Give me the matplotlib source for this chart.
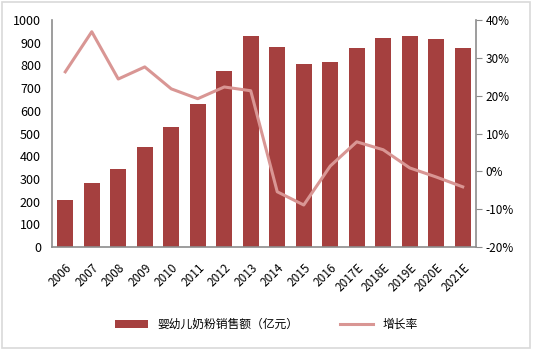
import matplotlib
matplotlib.use("Agg")
from matplotlib import pyplot as plt
from matplotlib.patches import Rectangle
import numpy as np

plt.rcParams['font.family'] = ['Noto Sans CJK SC', 'DejaVu Sans']

years = ["2006", "2007", "2008", "2009", "2010", "2011", "2012", "2013",
         "2014", "2015", "2016", "2017E", "2018E", "2019E", "2020E", "2021E"]
sales = [205, 280, 343, 440, 528, 628, 775, 930,
         880, 805, 815, 878, 922, 928, 915, 878]
growth = [26.3, 36.9, 24.4, 27.6, 21.8, 19.2, 22.3, 21.3,
          -5.4, -8.9, 1.4, 7.8, 5.7, 0.9, -1.5, -4.1]

bar_color = "#A5403F"
line_color = "#D99694"
axis_color = "#8C8C8C"

fig = plt.figure(figsize=(5.33, 3.51), dpi=100)
ax = fig.add_axes([0.0976, 0.2963, 0.7954, 0.6467])
x = np.arange(len(years))

# bars on the left axis
bars = ax.bar(x, sales, width=0.6, color=bar_color, label="婴幼儿奶粉销售额（亿元）")
ax.set_xlim(-0.5, len(years) - 0.5)
ax.set_ylim(0, 1000)
ax.set_yticks(range(0, 1001, 100))
ax.set_xticks(x)
ax.set_xticklabels(years, rotation=45, ha="right", rotation_mode="anchor")
ax.tick_params(axis="y", length=0, labelsize=9, pad=8)
ax.tick_params(axis="x", length=0, labelsize=8.5, pad=10)

# growth line on the right axis
ax2 = ax.twinx()
line, = ax2.plot(x, growth, color=line_color, linewidth=2.2, label="增长率")
ax2.set_ylim(-20, 40)
ax2.set_yticks(range(-20, 41, 10))
ax2.set_yticklabels([f"{v}%" for v in range(-20, 41, 10)])
ax2.tick_params(axis="y", length=4, color=axis_color, labelsize=8.5, pad=3)

for a in (ax, ax2):
    a.spines["top"].set_visible(False)
    for s in ("left", "right", "bottom"):
        a.spines[s].set_color(axis_color)
        a.spines[s].set_linewidth(1.2)
ax.spines["right"].set_visible(False)
ax2.spines["left"].set_visible(False)
ax2.spines["bottom"].set_visible(False)

fig.legend([bars, line], ["婴幼儿奶粉销售额（亿元）", "增长率"],
           loc="center", bbox_to_anchor=(0.5, 0.075), ncol=2, frameon=False,
           fontsize=8.5, handlelength=2.8, columnspacing=3.5)

# light frame around the picture
fig.patches.append(Rectangle((0.004, 0.008), 0.99, 0.985, transform=fig.transFigure,
                             fill=False, edgecolor="#D9D9D9", linewidth=1.2))

fig.savefig("out.png", dpi=100)
